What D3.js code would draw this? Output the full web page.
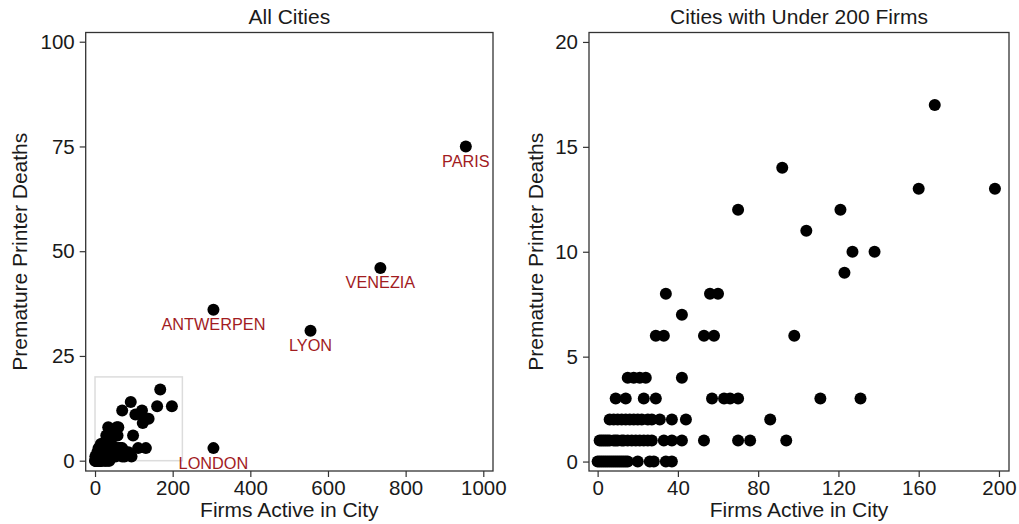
<!DOCTYPE html>
<html>
<head>
<meta charset="utf-8">
<script src="https://cdn.jsdelivr.net/npm/d3@7"></script>
<style>
    body { margin: 0; background: #fff; }
    text { font-family: "Liberation Sans", Arial, sans-serif; }
</style>
</head>
<body>
<script>
// Ciudades pequeñas (menos de 200 imprentas): imprentas activas y muertes prematuras
const firms = [
    168,
    92,
    160, 198,
    70, 121,
    104,
    127, 138,
    123,
    34, 56, 60,
    42,
    29, 33, 53, 58, 98,
    15, 18, 21, 24, 42,
    9, 14, 23, 29, 57, 63, 66, 70, 111, 131,
    6, 8, 10, 12, 14, 16, 18, 20, 22, 25, 27, 31, 37, 44, 86,
    1, 2, 3, 4, 5, 6, 8, 9, 10, 12, 13, 15, 17, 19, 21, 23, 25, 27, 33, 37, 42, 53, 70, 76, 94,
    0, 1, 2, 3, 4, 5, 6, 7, 8, 9, 10, 11, 12, 13, 14, 15, 20, 26, 28, 34, 37
];
const deaths = [
    17,
    14,
    13, 13,
    12, 12,
    11,
    10, 10,
    9,
    8, 8, 8,
    7,
    6, 6, 6, 6, 6,
    4, 4, 4, 4, 4,
    3, 3, 3, 3, 3, 3, 3, 3, 3, 3,
    2, 2, 2, 2, 2, 2, 2, 2, 2, 2, 2, 2, 2, 2, 2,
    1, 1, 1, 1, 1, 1, 1, 1, 1, 1, 1, 1, 1, 1, 1, 1, 1, 1, 1, 1, 1, 1, 1, 1, 1,
    0, 0, 0, 0, 0, 0, 0, 0, 0, 0, 0, 0, 0, 0, 0, 0, 0, 0, 0, 0, 0
];

// Ciudades grandes, con etiqueta
const bigNames = ['PARIS', 'VENEZIA', 'ANTWERPEN', 'LYON', 'LONDON'];
const bigFirms = [955, 735, 305, 555, 305];
const bigDeaths = [75, 46, 36, 31, 3];

// Recuadro del zoom (en unidades de datos)
const zoomBoxX = [0, 225];
const zoomBoxY = [0, 20];

const leftXTicks = [0, 200, 400, 600, 800, 1000];
const leftYTicks = [0, 25, 50, 75, 100];
const rightXTicks = [0, 40, 80, 120, 160, 200];
const rightYTicks = [0, 5, 10, 15, 20];

const WIDTH = 1019,
    HEIGHT = 524;

const small = firms.map((f, i) => ({firms: f, deaths: deaths[i]}));
const big = bigNames.map((n, i) => ({name: n, firms: bigFirms[i], deaths: bigDeaths[i]}));

const svg = d3.select('body')
    .append('svg')
        .attr('width', WIDTH)
        .attr('height', HEIGHT);

function panel(opts) {
    const width = opts.width,
        height = 438.5;

    const g = svg.append('g')
        .attr('transform', `translate(${opts.left},32.5)`);

    const xScale = d3.scaleLinear().domain(opts.xDomain).range([0, width]);
    const yScale = d3.scaleLinear().domain(opts.yDomain).range([height, 0]);

    // Ejes sin línea de dominio, el marco se dibuja aparte
    const xAxis = d3.axisBottom(xScale).tickValues(opts.xTicks)
        .tickFormat(d3.format('d')).tickSize(6).tickPadding(3);
    const yAxis = d3.axisLeft(yScale).tickValues(opts.yTicks)
        .tickFormat(d3.format('d')).tickSize(6).tickPadding(5);

    g.append('g')
        .attr('class', 'axis axis--x')
        .attr('transform', `translate(0,${height})`)
        .call(xAxis)
        .call(a => a.select('.domain').remove());

    g.append('g')
        .attr('class', 'axis axis--y')
        .call(yAxis)
        .call(a => a.select('.domain').remove());

    g.selectAll('.axis text')
        .style('font-size', '20.5px')
        .attr('fill', '#1a1a1a');
    g.selectAll('.axis line')
        .attr('stroke', '#333')
        .attr('stroke-width', 1.2);

    if (opts.box) {
        g.append('rect')
            .attr('x', xScale(zoomBoxX[0]))
            .attr('y', yScale(zoomBoxY[1]))
            .attr('width', xScale(zoomBoxX[1]) - xScale(zoomBoxX[0]))
            .attr('height', yScale(zoomBoxY[0]) - yScale(zoomBoxY[1]))
            .attr('fill', 'none')
            .attr('stroke', '#dcdcdc')
            .attr('stroke-width', 1.5);
    }

    g.selectAll('.dot')
        .data(opts.data)
        .enter().append('circle')
            .attr('class', 'dot')
            .attr('cx', d => xScale(d.firms))
            .attr('cy', d => yScale(d.deaths))
            .attr('r', 6)
            .attr('fill', '#000');

    if (opts.labels) {
        g.selectAll('.label')
            .data(opts.labels)
            .enter().append('text')
                .attr('class', 'label')
                .attr('x', d => xScale(d.firms))
                .attr('y', d => yScale(d.deaths) + 20.5)
                .attr('text-anchor', 'middle')
                .attr('fill', '#a21c1f')
                .style('font-size', '16.3px')
                .text(d => d.name);
    }

    // Marco
    g.append('rect')
        .attr('width', width)
        .attr('height', height)
        .attr('fill', 'none')
        .attr('stroke', '#333')
        .attr('stroke-width', 1.3);

    g.append('text')
        .attr('x', width / 2)
        .attr('y', -8.5)
        .attr('text-anchor', 'middle')
        .attr('fill', '#1a1a1a')
        .style('font-size', '21px')
        .text(opts.title);

    g.append('text')
        .attr('x', width / 2)
        .attr('y', height + 46)
        .attr('text-anchor', 'middle')
        .attr('fill', '#1a1a1a')
        .style('font-size', '21px')
        .text('Firms Active in City');

    g.append('text')
        .attr('transform', `translate(${opts.yTitleX},${height / 2}) rotate(-90)`)
        .attr('text-anchor', 'middle')
        .attr('fill', '#1a1a1a')
        .style('font-size', '21px')
        .text('Premature Printer Deaths');
}

panel({
    left: 85.7, width: 407.3,
    xDomain: [-24, 1025], yDomain: [-2.46, 102.2],
    xTicks: leftXTicks, yTicks: leftYTicks,
    data: small.concat(big), labels: big, box: true,
    title: 'All Cities', yTitleX: -59
});

panel({
    left: 589, width: 420,
    xDomain: [-4.3, 205], yDomain: [-0.45, 20.45],
    xTicks: rightXTicks, yTicks: rightYTicks,
    data: small,
    title: 'Cities with Under 200 Firms', yTitleX: -46.5
});
</script>
</body>
</html>
